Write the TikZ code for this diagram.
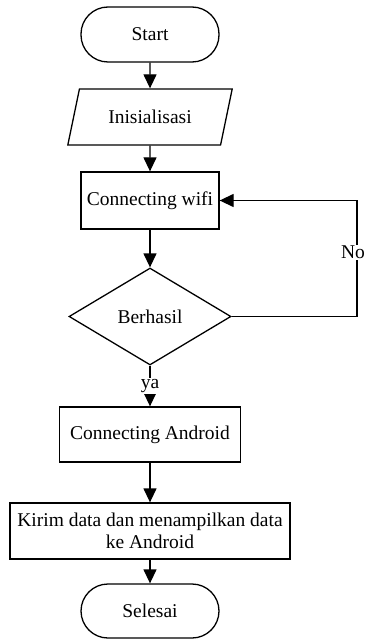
\documentclass[tikz,border=0pt]{standalone}
\usepackage{fontspec}
\setmainfont{Liberation Serif}
\usetikzlibrary{arrows.meta,shapes.geometric,positioning}

\begin{document}
\begin{tikzpicture}[x=1pt,y=-1pt,line width=1.3pt,
  font=\fontsize{19.5}{22}\selectfont,
  terminal/.style={draw,rounded corners=27pt,minimum width=138pt,minimum height=55pt,inner sep=0pt},
  proses/.style={draw,rectangle,minimum height=56pt,inner sep=2pt},
  masukan/.style={draw,trapezium,trapezium left angle=63.4,trapezium right angle=116.6,
    trapezium stretches=true,minimum width=166pt,minimum height=56pt,inner sep=0pt},
  keputusan/.style={draw,diamond,minimum width=162pt,minimum height=97pt,inner sep=0pt},
  panah/.style={-{Triangle[length=14pt,width=13pt]}},
  teks/.style={fill=white,inner sep=1pt}]

\useasboundingbox (0,0) rectangle (366,639);

\node[terminal] (start) at (150,34.5) {Start};
\node[masukan] (init) at (150,117) {Inisialisasi};
\node[proses,minimum width=138pt,minimum height=57pt] (wifi) at (150,200.5) {Connecting wifi};
\node[keputusan] (cek) at (150,316.5) {Berhasil};
\node[proses,minimum width=181pt,minimum height=55pt] (android) at (150,434.5) {Connecting Android};
\node[proses,minimum width=280pt,align=center] (kirim) at (150,531) {Kirim data dan menampilkan data\\ke Android};
\node[terminal,minimum height=54pt] (selesai) at (150,611) {Selesai};

\coordinate (belok) at (357,316.5);
\coordinate (balik) at (357,200.5);

\draw[panah] (start) -- (init);
\draw[panah] (init) -- (wifi);
\draw[panah] (wifi) -- (cek);
\draw[panah] (cek) -- (android) node[teks,pos=0.5] {ya};
\draw[panah] (cek.east) -- (belok) -- node[teks,pos=0.55,xshift=-4pt] {No} (balik) -- (wifi.east);
\draw[panah] (android) -- (kirim);
\draw[panah] (kirim) -- (selesai);

\end{tikzpicture}
\end{document}
